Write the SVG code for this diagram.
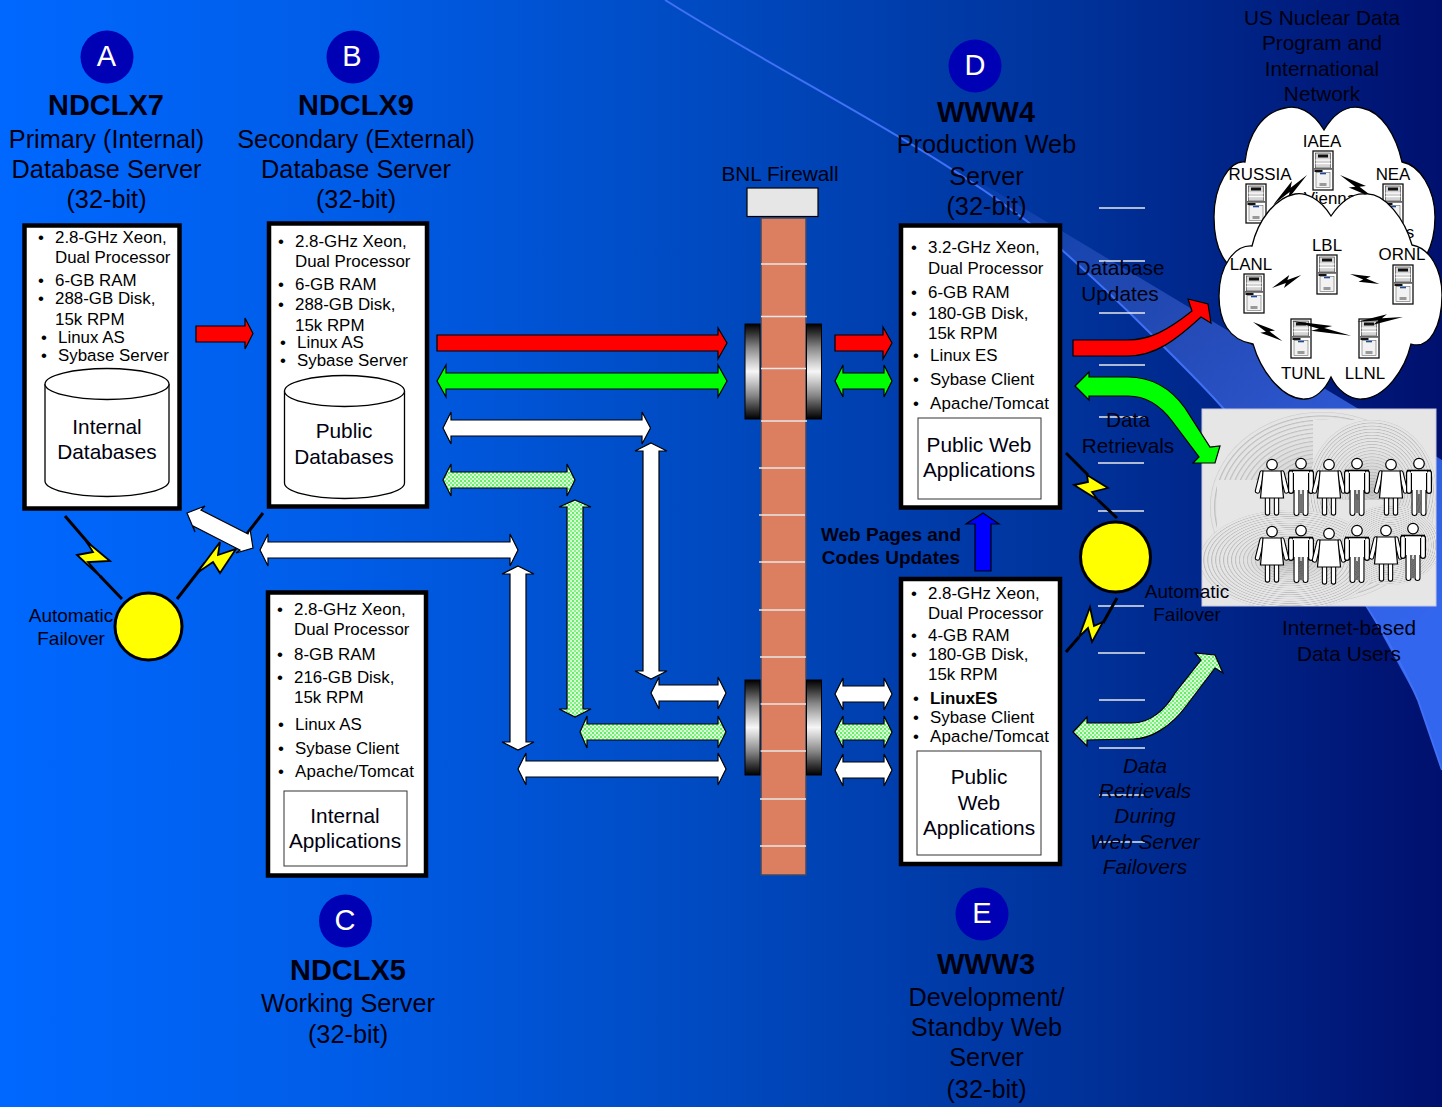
<svg xmlns="http://www.w3.org/2000/svg" xmlns:xlink="http://www.w3.org/1999/xlink" width="1442" height="1107" viewBox="0 0 1442 1107">
<style>
text{font-family:"Liberation Sans",Arial,sans-serif;fill:#00000f}
.b{font-size:16.9px;fill:#000}
.m{font-size:20.8px;text-anchor:middle}
.t{font-size:25.3px;text-anchor:middle}
.h{font-size:29px;font-weight:bold;text-anchor:middle}
.l{font-size:29px;text-anchor:middle;fill:#fff}
.c{font-size:16.9px;text-anchor:middle;fill:#000}
.a{font-size:19px;text-anchor:middle}
.box{fill:#fff;stroke:#000;stroke-width:4.5}
.in{fill:#fff;stroke:#333;stroke-width:1}
.ar{stroke:#000;stroke-width:1.2;stroke-linejoin:miter}
.w{fill:#fff}.g{fill:#00ff00}.r{fill:#ff0000}.d{fill:url(#dots)}
.dash{stroke:#e8e8e8;stroke-width:1.6}
.cyl{fill:#fff;stroke:#000;stroke-width:1.3}
.cloud{fill:#fff;stroke:#000;stroke-width:1.3}
.disc{fill:#0000b4}
.fo{fill:#ffff00;stroke:#000;stroke-width:3}
.bo{fill:#000}
.by{fill:#ffff00;stroke:#000;stroke-width:1.8;stroke-linejoin:miter}
.bl{stroke:#000;stroke-width:3;fill:none}
</style>
<defs>
<linearGradient id="bg" x1="0" y1="0" x2="1" y2="0">
<stop offset="0" stop-color="#0068ff"/><stop offset=".25" stop-color="#005ce6"/><stop offset=".5" stop-color="#0049bf"/><stop offset=".74" stop-color="#00339b"/><stop offset="1" stop-color="#00106e"/>
</linearGradient>
<linearGradient id="band" gradientUnits="userSpaceOnUse" x1="960" y1="170" x2="1400" y2="650">
<stop offset="0" stop-color="#3a66e0" stop-opacity="0"/><stop offset=".3" stop-color="#2a50b8" stop-opacity=".75"/><stop offset=".62" stop-color="#2c55cc"/><stop offset="1" stop-color="#3366ee"/>
</linearGradient>
<linearGradient id="roll" x1="0" y1="0" x2="0" y2="1">
<stop offset="0" stop-color="#000"/><stop offset=".1" stop-color="#333"/><stop offset=".25" stop-color="#888"/><stop offset=".4" stop-color="#ccc"/><stop offset=".5" stop-color="#f6f6f6"/><stop offset=".6" stop-color="#ccc"/><stop offset=".75" stop-color="#888"/><stop offset=".9" stop-color="#333"/><stop offset="1" stop-color="#000"/>
</linearGradient>
<pattern id="dots" width="4" height="4" patternUnits="userSpaceOnUse">
<rect width="4" height="4" fill="#d8ffd8"/><rect width="2" height="2" fill="#66ee66"/><rect x="2" y="2" width="2" height="2" fill="#88f088"/>
</pattern>
<radialGradient id="rings" cx=".5" cy=".5" r=".022" spreadMethod="repeat">
<stop offset="0" stop-color="#e6e6e6"/><stop offset=".5" stop-color="#e4e4e4"/><stop offset=".8" stop-color="#bcbcbc"/><stop offset="1" stop-color="#e6e6e6"/>
</radialGradient>
<radialGradient id="shade" cx=".5" cy=".5" r=".5">
<stop offset="0" stop-color="#a0a0a0" stop-opacity=".55"/><stop offset=".55" stop-color="#c0c0c0" stop-opacity=".25"/><stop offset="1" stop-color="#e6e6e6" stop-opacity="0"/>
</radialGradient>
<clipPath id="ph"><rect x="1202" y="409" width="234" height="197"/></clipPath>
<polygon id="bolt" points="0,0 66,-9 54,-2 100,0 34,9 46,2"/>
<g id="srv">
<rect x="0" y="0" width="20" height="39" fill="#fff" stroke="#111" stroke-width="1.3"/>
<rect x="2.500" y="2" width="15" height="15" fill="#d4d4d4" stroke="#333" stroke-width=".6"/>
<rect x="5" y="3.500" width="10" height="3" fill="#111"/>
<rect x="2.500" y="8.500" width="15" height="1.200" fill="#fff"/><rect x="2.500" y="12" width="15" height="1.200" fill="#fff"/>
<rect x="1" y="17" width="18" height="1.800" fill="#666"/><rect x="1.500" y="19" width="8" height="2" fill="#111"/>
<rect x="3" y="21.500" width="14" height="15" fill="#f2f2f2" stroke="#666" stroke-width=".6"/>
<rect x="7" y="21.800" width="6" height="1.500" fill="#1a4a9a"/>
<rect x="6.500" y="32" width="7" height="3" fill="#999"/>
</g>
<g id="wo">
<circle cx="0" cy="5.600" r="5.300" fill="#fff" stroke="#000" stroke-width="1.2"/>
<path d="M-10 14L-14.500 32M10 14L14.500 32M-4.500 38L-4.500 54M4.500 38L4.500 54" stroke="#000" stroke-width="5.400" stroke-linecap="round" fill="none"/>
<path d="M-10 14L-14.500 32M10 14L14.500 32M-4.500 38L-4.500 54M4.500 38L4.500 54" stroke="#fff" stroke-width="3.200" stroke-linecap="round" fill="none"/>
<path d="M-9 12L9 12L11.500 39L-11.500 39Z" fill="#fff" stroke="#000" stroke-width="1.200"/>
</g>
<g id="ma">
<circle cx="0" cy="5.600" r="5.300" fill="#fff" stroke="#000" stroke-width="1.200"/>
<path d="M-10 15L-10 33M10 15L10 33M-4.500 28L-4.500 55M4.500 28L4.500 55" stroke="#000" stroke-width="6" stroke-linecap="round" fill="none"/>
<path d="M-10 15L-10 33M10 15L10 33" stroke="#fff" stroke-width="3.600" stroke-linecap="round" fill="none"/>
<path d="M-8 12L8 12L8 32L-8 32Z" fill="#fff"/>
<path d="M-4.500 28L-4.500 55M4.500 28L4.500 55" stroke="#fff" stroke-width="3.800" stroke-linecap="round" fill="none"/>
<path d="M-12 12.500L12 12.500" stroke="#000" stroke-width="1.600"/>
<path d="M-7.500 15L-7.500 34M7.500 15L7.500 34M0 36L0 55" stroke="#000" stroke-width="1"/>
</g>
</defs>

<g id="background">
<rect width="1442" height="1107" fill="url(#bg)"/>
<path d="M960 170L1357 408L1442 460L1442 770L1418 700L1367 607L1223 408L1150 333L1062 250Z" fill="url(#band)"/>
<path d="M665 0C800 85 960 160 1062 250C1090 275 1120 303 1150 333C1175 358 1200 382 1223 408C1280 470 1325 540 1367 607C1388 640 1405 670 1418 700L1442 770" fill="none" stroke="#3f70f5" stroke-width="2"/>
</g>

<g id="firewall">
<rect x="761" y="218" width="45" height="657" fill="#dc7f60" stroke="#3c4a6a" stroke-width="1.500"/>
<rect x="747" y="188" width="71" height="28.500" fill="#e6e6e6" stroke="#000" stroke-width="1.200"/>
<path stroke="#e8e8e8" stroke-width="1.600" d="M761 264H807M761 316.500H807M761 368.500H806M761 421H807M759 468H805M759 515H805M759 562H805M759 610H805M760 657H806M760 704H806M760 751H806M760 799H806M760 846H806"/>
<g fill="url(#roll)" stroke="#000" stroke-width="1">
<rect x="745" y="324" width="15" height="95"/><rect x="806.500" y="324" width="15" height="95"/>
<rect x="745" y="680" width="15" height="95"/><rect x="806.500" y="680" width="15" height="95"/>
</g>
<text class="m" x="780" y="181">BNL Firewall</text>
</g>

<g id="dashes">
<path class="dash" d="M1099 208H1145M1099 261H1145M1099 313H1145M1099 365H1145M1099 417H1145M1098 463H1144M1098 511H1144M1098 606H1144M1098 653H1145M1099 700H1145M1099 748H1145M1099 795H1145M1099 842H1145"/>
</g>

<g id="node-a">
<circle class="disc" cx="107" cy="57" r="26.500"/><text class="l" x="106.500" y="66">A</text>
<text class="h" x="106" y="115">NDCLX7</text>
<text class="t" x="106.500" y="147.500">Primary (Internal)</text>
<text class="t" x="106.500" y="177.500">Database Server</text>
<text class="t" x="106.500" y="207.500">(32-bit)</text>
<rect class="box" x="24.500" y="225.500" width="155" height="283"/>
<text class="b" x="38" y="243">•</text><text class="b" x="55" y="243">2.8-GHz Xeon,</text>
<text class="b" x="55" y="263">Dual Processor</text>
<text class="b" x="38" y="286">•</text><text class="b" x="55" y="286">6-GB RAM</text>
<text class="b" x="38" y="304">•</text><text class="b" x="55" y="304">288-GB Disk,</text>
<text class="b" x="55" y="325">15k RPM</text>
<text class="b" x="41" y="343">•</text><text class="b" x="58" y="343">Linux AS</text>
<text class="b" x="41" y="361">•</text><text class="b" x="58" y="361">Sybase Server</text>
<path class="cyl" d="M45 384V481A62 15.500 0 0 0 169 481V384"/>
<ellipse class="cyl" cx="107" cy="384" rx="62" ry="15.500"/>
<text class="m" x="107" y="434">Internal</text><text class="m" x="107" y="459">Databases</text>
</g>

<g id="node-b">
<circle class="disc" cx="353" cy="57" r="26.500"/><text class="l" x="352" y="66">B</text>
<text class="h" x="356" y="115">NDCLX9</text>
<text class="t" x="356" y="147.500">Secondary (External)</text>
<text class="t" x="356" y="177.500">Database Server</text>
<text class="t" x="356" y="207.500">(32-bit)</text>
<rect class="box" x="269" y="223.500" width="158" height="283"/>
<text class="b" x="278" y="247">•</text><text class="b" x="295" y="247">2.8-GHz Xeon,</text>
<text class="b" x="295" y="267">Dual Processor</text>
<text class="b" x="278" y="290">•</text><text class="b" x="295" y="290">6-GB RAM</text>
<text class="b" x="278" y="310">•</text><text class="b" x="295" y="310">288-GB Disk,</text>
<text class="b" x="295" y="331">15k RPM</text>
<text class="b" x="280" y="348">•</text><text class="b" x="297" y="348">Linux AS</text>
<text class="b" x="280" y="366">•</text><text class="b" x="297" y="366">Sybase Server</text>
<path class="cyl" d="M284.500 391V483A60 15.500 0 0 0 404.500 483V391"/>
<ellipse class="cyl" cx="344.500" cy="391" rx="60" ry="15.500"/>
<text class="m" x="344" y="438">Public</text><text class="m" x="344" y="464">Databases</text>
</g>

<g id="node-c">
<rect class="box" x="268" y="592.500" width="158" height="283"/>
<text class="b" x="277" y="615">•</text><text class="b" x="294" y="615">2.8-GHz Xeon,</text>
<text class="b" x="294" y="635">Dual Processor</text>
<text class="b" x="277" y="660">•</text><text class="b" x="294" y="660">8-GB RAM</text>
<text class="b" x="277" y="683">•</text><text class="b" x="294" y="683">216-GB Disk,</text>
<text class="b" x="294" y="703">15k RPM</text>
<text class="b" x="278" y="730">•</text><text class="b" x="295" y="730">Linux AS</text>
<text class="b" x="278" y="754">•</text><text class="b" x="295" y="754">Sybase Client</text>
<text class="b" x="278" y="777">•</text><text class="b" x="295" y="777" textLength="119" lengthAdjust="spacing">Apache/Tomcat</text>
<rect class="in" x="284" y="791" width="123" height="75"/>
<text class="m" x="345" y="823">Internal</text><text class="m" x="345" y="848">Applications</text>
<circle class="disc" cx="345.500" cy="921" r="26.500"/><text class="l" x="345" y="930">C</text>
<text class="h" x="348" y="980">NDCLX5</text>
<text class="t" x="348" y="1012">Working Server</text>
<text class="t" x="348" y="1042.500">(32-bit)</text>
</g>

<g id="node-d">
<circle class="disc" cx="975" cy="66" r="26.500"/><text class="l" x="975" y="75">D</text>
<text class="h" x="986" y="122">WWW4</text>
<text class="t" x="986.500" y="153">Production Web</text>
<text class="t" x="986.500" y="184.500">Server</text>
<text class="t" x="986.500" y="214.500">(32-bit)</text>
<rect class="box" x="901" y="225.500" width="159" height="282"/>
<text class="b" x="911" y="253">•</text><text class="b" x="928" y="253">3.2-GHz Xeon,</text>
<text class="b" x="928" y="274">Dual Processor</text>
<text class="b" x="911" y="298">•</text><text class="b" x="928" y="298">6-GB RAM</text>
<text class="b" x="911" y="319">•</text><text class="b" x="928" y="319">180-GB Disk,</text>
<text class="b" x="928" y="339">15k RPM</text>
<text class="b" x="913" y="361">•</text><text class="b" x="930" y="361">Linux ES</text>
<text class="b" x="913" y="385">•</text><text class="b" x="930" y="385">Sybase Client</text>
<text class="b" x="913" y="409">•</text><text class="b" x="930" y="409" textLength="119" lengthAdjust="spacing">Apache/Tomcat</text>
<rect class="in" x="918" y="418" width="123" height="81"/>
<text class="m" x="979" y="452">Public Web</text><text class="m" x="979" y="477">Applications</text>
</g>

<g id="node-e">
<rect class="box" x="901" y="579" width="159" height="285"/>
<text class="b" x="911" y="599">•</text><text class="b" x="928" y="599">2.8-GHz Xeon,</text>
<text class="b" x="928" y="619">Dual Processor</text>
<text class="b" x="911" y="641">•</text><text class="b" x="928" y="641">4-GB RAM</text>
<text class="b" x="911" y="660">•</text><text class="b" x="928" y="660">180-GB Disk,</text>
<text class="b" x="928" y="680">15k RPM</text>
<text class="b" x="913" y="704">•</text><text class="b" x="930" y="704" font-weight="bold">LinuxES</text>
<text class="b" x="913" y="723">•</text><text class="b" x="930" y="723">Sybase Client</text>
<text class="b" x="913" y="742">•</text><text class="b" x="930" y="742" textLength="119" lengthAdjust="spacing">Apache/Tomcat</text>
<rect class="in" x="917" y="751" width="124" height="104"/>
<text class="m" x="979" y="784">Public</text><text class="m" x="979" y="810">Web</text><text class="m" x="979" y="835">Applications</text>
<circle class="disc" cx="982" cy="914" r="26.500"/><text class="l" x="982" y="923">E</text>
<text class="h" x="986" y="974">WWW3</text>
<text class="t" x="986.500" y="1006">Development/</text>
<text class="t" x="986.500" y="1036">Standby Web</text>
<text class="t" x="986.500" y="1066">Server</text>
<text class="t" x="986.500" y="1097.500">(32-bit)</text>
</g>

<g id="node-network">
<path class="cloud" d="M1324 130C1312 110 1297 105 1285 108C1262 112 1248 135 1245 162C1230 160 1214 185 1214 217C1214 240 1220 258 1232 268L1420 265C1428 255 1435 240 1435 217C1435 190 1420 165 1402 162C1396 135 1382 112 1362 108C1350 105 1336 110 1324 130Z"/>
<text class="c" x="1322" y="147">IAEA</text><text class="c" x="1260" y="180">RUSSIA</text><text class="c" x="1393" y="180">NEA</text>
<text class="c" x="1330" y="204">Vienna</text><text class="c" x="1395" y="238">Paris</text>
<use xlink:href="#srv" href="#srv" x="1313" y="151"/><use xlink:href="#srv" href="#srv" x="1246" y="184"/><use xlink:href="#srv" href="#srv" x="1383" y="184"/>
<use class="bo" href="#bolt" xlink:href="#bolt" transform="translate(1307 175) rotate(138.600) scale(.45 .6)"/>
<use class="bo" href="#bolt" xlink:href="#bolt" transform="translate(1340 175) rotate(34) scale(.42 .6)"/>
<path class="cloud" d="M1331 216C1320 198 1305 192 1295 194C1275 198 1258 220 1252 246C1235 245 1219 265 1219 296C1219 320 1228 340 1253 344C1262 375 1285 400 1305 399C1315 399 1325 390 1331 377C1337 390 1350 400 1362 399C1385 398 1405 370 1411 344C1430 350 1442 325 1442 295C1442 270 1430 248 1412 245C1405 220 1385 192 1365 194C1352 193 1340 203 1331 216Z"/>
<text class="c" x="1327" y="251">LBL</text><text class="c" x="1402" y="260">ORNL</text><text class="c" x="1251" y="270">LANL</text><text class="c" x="1303" y="379">TUNL</text><text class="c" x="1365" y="379">LLNL</text>
<use xlink:href="#srv" href="#srv" x="1317" y="255"/><use xlink:href="#srv" href="#srv" x="1393" y="265"/><use xlink:href="#srv" href="#srv" x="1244" y="274"/><use xlink:href="#srv" href="#srv" x="1291" y="319"/><use xlink:href="#srv" href="#srv" x="1359" y="319"/>
<use class="bo" href="#bolt" xlink:href="#bolt" transform="translate(1272 288) rotate(-24) scale(.32 .55)"/>
<use class="bo" href="#bolt" xlink:href="#bolt" transform="translate(1350 274) rotate(19) scale(.31 .5)"/>
<use class="bo" href="#bolt" xlink:href="#bolt" transform="translate(1253 322) rotate(33) scale(.35 .55)"/>
<use class="bo" href="#bolt" xlink:href="#bolt" transform="translate(1292 321) rotate(14) scale(.61 .55)"/>
<use class="bo" href="#bolt" xlink:href="#bolt" transform="translate(1403 317) rotate(174) scale(.46 .5)"/>
<text class="m" x="1322" y="25">US Nuclear Data</text><text class="m" x="1322" y="50">Program and</text><text class="m" x="1322" y="76">International</text><text class="m" x="1322" y="101">Network</text>
</g>

<g id="node-users">
<rect x="1202" y="409" width="234" height="197" fill="#e6e6e6" stroke="#c8c8e0"/>
<g clip-path="url(#ph)">
<ellipse cx="1322" cy="507" rx="112" ry="95" fill="url(#rings)"/>
<ellipse cx="1322" cy="507" rx="112" ry="95" fill="url(#shade)"/>
<rect x="1313" y="420" width="90" height="80" fill="#e6e6e6"/>
<rect x="1217" y="480" width="118" height="88" fill="#e6e6e6"/>
<ellipse cx="1372" cy="490" rx="64" ry="70" fill="url(#rings)"/>
<ellipse cx="1372" cy="490" rx="50" ry="50" fill="url(#shade)"/>
<rect x="1334" y="500" width="60" height="60" fill="#e6e6e6"/>
<ellipse cx="1290" cy="560" rx="90" ry="50" fill="url(#rings)"/>
<ellipse cx="1290" cy="560" rx="60" ry="30" fill="url(#shade)"/>
<ellipse cx="1390" cy="545" rx="50" ry="40" fill="url(#rings)"/>
</g>
<use href="#wo" xlink:href="#wo" x="1272" y="459"/><use href="#ma" xlink:href="#ma" x="1301" y="458"/><use href="#wo" xlink:href="#wo" x="1329" y="459"/><use href="#ma" xlink:href="#ma" x="1357" y="458"/><use href="#wo" xlink:href="#wo" x="1391" y="459"/><use href="#ma" xlink:href="#ma" x="1419" y="458"/>
<use href="#wo" xlink:href="#wo" x="1272" y="526"/><use href="#ma" xlink:href="#ma" x="1301" y="525"/><use href="#wo" xlink:href="#wo" x="1329" y="528"/><use href="#ma" xlink:href="#ma" x="1357" y="525"/><use href="#wo" xlink:href="#wo" x="1386" y="525"/><use href="#ma" xlink:href="#ma" x="1413" y="523"/>
<text class="m" x="1349" y="635">Internet-based</text><text class="m" x="1349" y="661">Data Users</text>
</g>

<g id="connectors">
<polygon class="ar r" points="196,326 245,326 245,318 253,333.500 245,349 245,342 196,342"/>
<polygon class="ar r" points="437,335 718,335 718,328 727,343 718,359 718,351 437,351"/>
<polygon class="ar g" points="437,381 446,365 446,373 718,373 718,365 727,381 718,397 718,389 446,389 446,397"/>
<polygon class="ar r" points="835,335 883,335 883,327 892,343 883,359 883,351 835,351"/>
<polygon class="ar g" points="835,381 843,365 843,373 884,373 884,365 892,381 884,397 884,389 843,389 843,397"/>
<polygon class="ar w" points="443,428 451,412 451,420 642,420 642,412 650.500,428 642,444 642,436 451,436 451,444"/>
<polygon class="ar d" points="443,480 451,464 451,472 567,472 567,464 575,480 567,496 567,488 451,488 451,496"/>
<polygon class="ar w" points="260,550 268,534 268,542 510,542 510,534 518,550 510,566 510,558 268,558 268,566"/>
<polygon class="ar w" points="651,443 667,451 659,451 659,671 667,671 651,679 635,671 643,671 643,451 635,451"/>
<polygon class="ar d" points="575,500 591,507 583,507 583,709 591,709 575,717 559,709 567,709 567,507 559,507"/>
<polygon class="ar w" points="518,566 534,574 526,574 526,742 534,742 518,750 502,742 510,742 510,574 502,574"/>
<polygon class="ar w" points="651,693 659,677 659,685 718,685 718,677 726,693 718,709 718,701 659,701 659,709"/>
<polygon class="ar d" points="580,732 587,716 587,724 718,724 718,716 726,732 718,748 718,740 587,740 587,748"/>
<polygon class="ar w" points="518,769 526,753 526,761 718,761 718,753 726,769 718,785 718,777 526,777 526,785"/>
<polygon class="ar w" points="835,694 843,678 843,686 884,686 884,678 892,694 884,710 884,702 843,702 843,710"/>
<polygon class="ar d" points="835,732 843,716 843,724 884,724 884,716 892,732 884,748 884,740 843,740 843,748"/>
<polygon class="ar w" points="835,770 843,754 843,762 884,762 884,754 892,770 884,786 884,778 843,778 843,786"/>
<polygon class="ar" fill="#0000ff" points="983,513 999,524 991,524 991,571 975,571 975,524 966,524"/>
<path class="ar r" d="M1073 340L1128 340C1150 340 1168 330 1192 311L1188 299L1208 304L1211 323L1201 317C1176 340 1155 356 1128 356L1073 356Z"/>
<path class="ar g" d="M1075 386L1089 372L1089 377L1128 377C1155 377 1172 390 1185 408L1210 447L1220 446L1215 463L1193 463L1199 457L1172 421C1160 405 1145 396 1128 396L1089 396L1089 400Z"/>
<path class="ar d" d="M1073 732L1087 717L1087 723L1132 723C1150 723 1165 710 1175 693L1201 660L1195 653L1215 655L1223 673L1215 668L1187 705C1170 728 1150 739 1133 739L1087 740L1087 746Z"/>
<text class="a" x="71" y="622">Automatic</text><text class="a" x="71" y="645">Failover</text>
<path class="bl" d="M65 516L90 545M100 576L122 599"/>
<path class="by" d="M77 555L93 552L86 541L110 561L88 562L104 580Z"/>
<path class="bl" d="M236 548L263 513M177 599L205 563"/>
<path class="by" d="M197 573L220 542L218 555L236 549L220 573L213 562Z"/>
<polygon class="ar w" points="187,513 205,506 201,510 248,534 250,529 253,548 236,553 240,550 193,526 195,532"/>
<circle class="fo" cx="148.500" cy="626.500" r="33.500"/>
<path class="bl" d="M1066 453L1088 475M1098 500L1117 518"/>
<path class="by" d="M1074 485L1088 482L1087 475L1108 488L1092 492L1098 500Z"/>
<path class="bl" d="M1117 598L1103 623M1079 637L1066 652"/>
<path class="by" d="M1090 607L1094 626L1103 622L1092 642L1088 628L1079 637Z"/>
<circle class="fo" cx="1115.500" cy="557" r="35"/>
</g>

<g id="labels">
<text class="m" x="1120" y="275">Database</text><text class="m" x="1120" y="301">Updates</text>
<text class="m" x="1128" y="427">Data</text><text class="m" x="1128" y="453">Retrievals</text>
<text class="a" x="1187" y="598">Automatic</text><text class="a" x="1187" y="621">Failover</text>
<text class="a" x="891" y="541" font-weight="bold">Web Pages and</text><text class="a" x="891" y="564" font-weight="bold">Codes Updates</text>
<g font-style="italic">
<text class="m" x="1145" y="773">Data</text><text class="m" x="1145" y="798">Retrievals</text><text class="m" x="1145" y="823">During</text><text class="m" x="1145" y="849">Web Server</text><text class="m" x="1145" y="874">Failovers</text>
</g>
</g>
</svg>
